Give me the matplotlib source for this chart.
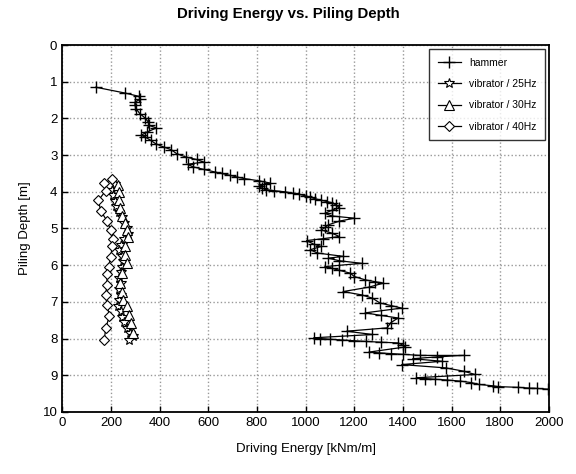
import matplotlib
matplotlib.use("Agg")
import matplotlib.pyplot as plt

plt.rcParams['font.family'] = ['Liberation Sans', 'DejaVu Sans']

# hammer: depth [m] / energy [kNm/m]
hammer_depth = [1.15, 1.31, 1.40, 1.48, 1.56, 1.63, 1.74, 1.87, 1.98, 2.10,
                2.19, 2.26, 2.37, 2.46, 2.51, 2.60, 2.69, 2.78, 2.85, 2.96,
                3.05, 3.12, 3.19, 3.25, 3.32, 3.39, 3.46, 3.50, 3.55, 3.60,
                3.64, 3.70, 3.76, 3.80, 3.85, 3.90, 3.94, 3.97, 4.00, 4.04,
                4.07, 4.11, 4.15, 4.19, 4.23, 4.27, 4.30, 4.36, 4.43, 4.50,
                4.59, 4.66, 4.72, 4.80, 4.90, 4.97, 5.04, 5.13, 5.22, 5.28,
                5.33, 5.43, 5.49, 5.58, 5.67, 5.76, 5.81, 5.88, 5.95, 6.04,
                6.09, 6.14, 6.22, 6.31, 6.40, 6.45, 6.49, 6.60, 6.72, 6.81,
                6.90, 7.03, 7.10, 7.17, 7.30, 7.37, 7.44, 7.57, 7.71, 7.80,
                7.89, 7.98, 8.00, 8.02, 8.04, 8.06, 8.08, 8.10, 8.12, 8.18,
                8.23, 8.37, 8.39, 8.41, 8.43, 8.46, 8.46, 8.50, 8.55, 8.62,
                8.71, 8.80, 8.89, 8.98, 9.07, 9.09, 9.11, 9.13, 9.16, 9.20,
                9.25, 9.29, 9.31, 9.33, 9.35, 9.36, 9.38]
hammer_energy = [138, 259, 316, 319, 299, 299, 304, 319, 339, 354,
                 357, 387, 349, 324, 342, 364, 384, 417, 447, 470,
                 507, 552, 582, 515, 537, 582, 627, 655, 688, 720,
                 748, 808, 853, 830, 808, 820, 838, 870, 914, 950,
                 974, 1000, 1019, 1040, 1064, 1090, 1109, 1125, 1139, 1109,
                 1079, 1109, 1200, 1139, 1094, 1080, 1064, 1109, 1139, 1070,
                 1004, 1034, 1064, 1019, 1049, 1154, 1094, 1139, 1230, 1079,
                 1110, 1139, 1184, 1200, 1245, 1285, 1320, 1260, 1154, 1230,
                 1275, 1305, 1350, 1395, 1245, 1310, 1380, 1350, 1335, 1169,
                 1275, 1034, 1060, 1100, 1150, 1200, 1250, 1310, 1380, 1400,
                 1410, 1260, 1300, 1350, 1400, 1470, 1650, 1540, 1440, 1560,
                 1395, 1575, 1650, 1696, 1455, 1490, 1530, 1580, 1635, 1680,
                 1711, 1771, 1790, 1872, 1918, 1950, 1997]

# vibrator 25 Hz
v25_depth = [3.80, 3.95, 4.10, 4.25, 4.40, 4.55, 4.70, 4.85, 5.00, 5.15,
             5.30, 5.45, 5.60, 5.75, 5.90, 6.05, 6.20, 6.35, 6.50, 6.65,
             6.80, 6.95, 7.10, 7.25, 7.40, 7.55, 7.70, 7.85, 7.93, 8.03]
v25_energy = [215, 205, 210, 215, 220, 235, 245, 255, 265, 270,
              255, 240, 235, 245, 250, 245, 240, 235, 240, 235,
              240, 235, 230, 240, 245, 255, 265, 280, 292, 274]

# vibrator 30 Hz
v30_depth = [3.82, 4.00, 4.23, 4.45, 4.65, 4.85, 5.04, 5.22, 5.49, 5.72,
             5.95, 6.22, 6.49, 6.72, 6.94, 7.12, 7.35, 7.57, 7.85]
v30_energy = [229, 233, 233, 236, 245, 258, 266, 269, 259, 259,
              266, 244, 239, 245, 251, 266, 274, 281, 289]

# vibrator 40 Hz
v40_depth = [3.64, 3.77, 3.97, 4.23, 4.52, 4.79, 5.04, 5.30, 5.49, 5.78,
             6.04, 6.24, 6.53, 6.81, 7.08, 7.39, 7.71, 8.03]
v40_energy = [206, 173, 179, 149, 158, 184, 199, 210, 206, 199,
              191, 184, 184, 179, 184, 194, 179, 173]

fig = plt.figure(figsize=(5.76, 4.74), dpi=100)
ax = fig.add_axes([0.108, 0.131, 0.845, 0.774])

ax.plot(hammer_energy, hammer_depth, color='black', lw=0.9, marker='+',
        ms=9, mew=1.0, label='hammer')
ax.plot(v25_energy, v25_depth, color='black', lw=0.9, marker='*',
        ms=7, mfc='white', mew=0.8, label='vibrator / 25Hz')
ax.plot(v30_energy, v30_depth, color='black', lw=0.9, marker='^',
        ms=6.5, mfc='white', mew=0.8, label='vibrator / 30Hz')
ax.plot(v40_energy, v40_depth, color='black', lw=0.9, marker='D',
        ms=5, mfc='white', mew=0.8, label='vibrator / 40Hz')

ax.set_xlim(0, 2000)
ax.set_ylim(10, 0)
ax.set_xticks(range(0, 2001, 200))
ax.set_yticks(range(0, 11))
ax.tick_params(direction='in', labelsize=9.5, length=4, width=1)
ax.grid(True, color='#999999', linestyle=':', linewidth=1)
for s in ax.spines.values():
    s.set_linewidth(1.3)

ax.set_xlabel('Driving Energy [kNm/m]', fontsize=9.5, labelpad=10)
ax.set_ylabel('Piling Depth [m]', fontsize=9.5, labelpad=8)
fig.suptitle('Driving Energy vs. Piling Depth', fontsize=10.8,
             fontweight='bold', y=0.985)

leg = ax.legend(loc='upper right', fontsize=7.5, frameon=True, fancybox=False,
                edgecolor='black', borderpad=0.8, labelspacing=1.1,
                handlelength=2.2, borderaxespad=0.4)
leg.get_frame().set_linewidth(1.0)

fig.savefig('out.png', dpi=100)
